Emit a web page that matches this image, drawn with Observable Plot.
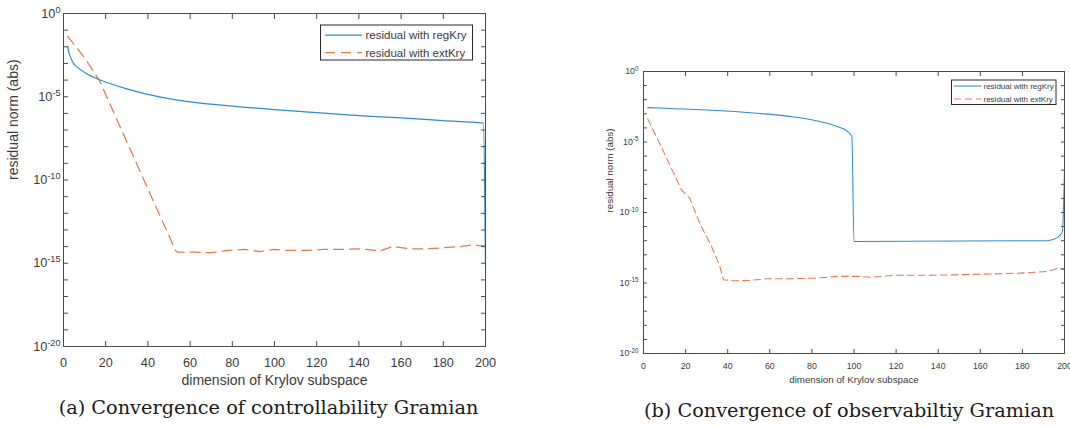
<!DOCTYPE html>
<html><head><meta charset="utf-8">
<script src="https://cdn.jsdelivr.net/npm/d3@7"></script>
<script src="https://cdn.jsdelivr.net/npm/@observablehq/plot@0.6"></script>
<style>
html,body{margin:0;padding:0;background:#fff;}
#root{position:relative;width:1070px;height:427px;overflow:hidden;background:#fff;}
.chart{position:absolute;top:0;}
.chart svg{max-width:none;overflow:visible;}
.caption{position:absolute;font-family:"DejaVu Serif",serif;font-size:19.3px;color:#1a1a1a;white-space:nowrap;transform:translate(-50%,-50%);}
.legend{position:absolute;left:0;top:0;overflow:visible;}
</style></head><body><div id="root"></div>
<script>
// ---------- data ----------
const xTicks = [0, 20, 40, 60, 80, 100, 120, 140, 160, 180, 200];
const yDecades = [1, 1e-1, 1e-2, 1e-3, 1e-4, 1e-5, 1e-6, 1e-7, 1e-8, 1e-9, 1e-10,
  1e-11, 1e-12, 1e-13, 1e-14, 1e-15, 1e-16, 1e-17, 1e-18, 1e-19, 1e-20];
const yLabelTicks = [1, 1e-5, 1e-10, 1e-15, 1e-20];
const seriesNames = ["residual with regKry", "residual with extKry"];
const xLabel = "dimension of Krylov subspace";
const yLabel = "residual norm (abs)";
const captions = ["(a) Convergence of controllability Gramian", "(b) Convergence of observabiltiy Gramian"];

// (a) controllability
const regA_x = [2, 2.5, 3.3, 4.9, 6.5, 11, 18, 30, 46, 60, 80, 100, 120, 140, 160, 180, 199, 200];
const regA_y = [1.05e-2, 4.8e-3, 2.4e-3, 9.5e-4, 6.0e-4, 2.4e-4, 9.5e-5, 3.0e-5, 9.5e-6, 5.0e-6,
  2.75e-6, 1.7e-6, 1.12e-6, 7.4e-7, 5.4e-7, 3.7e-7, 2.6e-7, 8e-16];
const extA_x = [2, 10, 17, 51, 53, 54, 62, 70, 78, 86, 93, 100, 106, 116, 123, 131, 141, 150,
  156, 164, 172, 180, 188, 194, 198, 200];
const extA_y = [4.2e-2, 2.2e-3, 9.5e-5, 2.3e-14, 5.9e-15, 4.6e-15, 4.6e-15, 4.3e-15, 5.9e-15,
  6.8e-15, 5.0e-15, 6.8e-15, 5.9e-15, 5.9e-15, 6.8e-15, 6.8e-15, 7.4e-15, 5.6e-15, 1.0e-14,
  7.4e-15, 7.4e-15, 8.5e-15, 1.0e-14, 1.26e-14, 1.12e-14, 1.1e-14];

// (b) observability
const regB_x = [2, 15, 30, 54, 70, 82, 92, 97, 99, 100, 192, 197, 199, 200];
const regB_y = [2.75e-3, 2.3e-3, 1.86e-3, 1.1e-3, 6.3e-4, 3.2e-4, 1.26e-4, 5.5e-5, 2.4e-5,
  8.9e-13, 1.0e-12, 1.8e-12, 4.6e-12, 1.05e-7];
const extB_x = [2, 8, 14, 18, 22, 27, 32, 36, 38, 43, 50, 59, 70, 81, 87, 92, 100, 103, 108,
  119, 135, 151, 166, 179, 192, 197, 200];
const extB_y = [4.4e-4, 6.3e-6, 7.9e-8, 4.1e-9, 1.0e-9, 1.35e-11, 5.1e-13, 2.0e-14, 1.7e-15,
  1.45e-15, 1.5e-15, 2.0e-15, 2.0e-15, 2.2e-15, 2.5e-15, 2.95e-15, 2.95e-15, 2.95e-15, 2.5e-15,
  3.5e-15, 3.5e-15, 3.9e-15, 4.4e-15, 5.0e-15, 6.6e-15, 1.15e-14, 8.7e-15];

// ---------- styling ----------
const BLUE = "#2f8ccc", RED = "#e07a4f", AX = "#4a4a4a", TXT = "#3a3a3a";
const NS = "http://www.w3.org/2000/svg";
const root = document.getElementById("root");

function rows(xs, ys, s) { return xs.map((x, i) => ({x, y: ys[i], s})); }

function chart(c) {
  const reg = rows(c.regX, c.regY, seriesNames[0]);
  const ext = rows(c.extX, c.extY, seriesNames[1]);
  const p = Plot.plot({
    width: c.width, height: c.height,
    marginTop: c.mt, marginRight: c.mr, marginBottom: c.mb, marginLeft: c.ml,
    style: {fontFamily: '"Liberation Sans", Arial, sans-serif', fontSize: c.tickFont + "px", color: TXT, background: "transparent"},
    x: {domain: [0, 200], label: null},
    y: {type: "log", domain: [1e-20, 1], label: null},
    marks: [
      Plot.line(ext, {x: "x", y: "y", stroke: RED, strokeWidth: c.lw, strokeDasharray: c.dash}),
      Plot.line(reg, {x: "x", y: "y", stroke: BLUE, strokeWidth: c.lw, curve: "monotone-x"}),
      Plot.frame({stroke: AX, strokeWidth: 1}),
      Plot.axisX(xTicks, {anchor: "bottom", tickSize: -c.tick, tickPadding: c.xPad, label: null, stroke: AX}),
      Plot.axisX(xTicks, {anchor: "top", tickSize: -c.tick, tickFormat: () => "", label: null, stroke: AX}),
      Plot.axisY(yDecades, {anchor: "left", tickSize: -c.tick, tickFormat: () => "", label: null, stroke: AX}),
      Plot.axisY(yDecades, {anchor: "right", tickSize: -c.tick, tickFormat: () => "", label: null, stroke: AX}),
      Plot.axisY(yLabelTicks, {anchor: "left", tickSize: 0, tickPadding: c.yPad, label: null,
        tickFormat: d => "10^" + Math.round(Math.log10(d))}),
      Plot.text([xLabel], {text: d => d, frameAnchor: "bottom", dy: c.xLabelDy, lineAnchor: "middle", fontSize: c.labelFont, fill: TXT}),
      Plot.text([yLabel], {text: d => d, frameAnchor: "left", dx: c.yLabelDx, rotate: -90, lineAnchor: "middle", fontSize: c.labelFont, fill: TXT})
    ]
  });
  // superscript exponents on the y tick labels
  p.querySelectorAll('g[aria-label="y-axis tick label"] text').forEach(t => {
    const m = t.textContent.match(/^10\^(-?\d+)$/);
    if (!m) return;
    t.textContent = "";
    const a = document.createElementNS(NS, "tspan"); a.textContent = "10";
    const b = document.createElementNS(NS, "tspan");
    b.setAttribute("dy", "-0.55em"); b.setAttribute("font-size", "0.72em"); b.textContent = m[1];
    t.appendChild(a); t.appendChild(b);
  });
  const wrap = document.createElement("div");
  wrap.className = "chart";
  wrap.style.left = c.left + "px";
  wrap.appendChild(p);
  root.appendChild(wrap);
}

function legend(l) {
  const svg = d3.select(root).append("svg").attr("class", "legend")
    .attr("width", 1070).attr("height", 427);
  svg.append("rect").attr("x", l.x0).attr("y", l.y0).attr("width", l.x1 - l.x0).attr("height", l.y1 - l.y0)
    .attr("fill", "#fff").attr("stroke", "#2a2a2a").attr("stroke-width", 1);
  const items = [{name: seriesNames[0], color: BLUE, dash: null}, {name: seriesNames[1], color: RED, dash: l.dash}];
  items.forEach((it, i) => {
    const y = l.rows[i];
    svg.append("line").attr("x1", l.lx0).attr("x2", l.lx1).attr("y1", y).attr("y2", y)
      .attr("stroke", it.color).attr("stroke-width", l.lw).attr("stroke-dasharray", it.dash);
    svg.append("text").attr("x", l.tx).attr("y", y).attr("dy", "0.35em")
      .attr("font-family", '"Liberation Sans", Arial, sans-serif').attr("font-size", l.font)
      .attr("fill", TXT).text(it.name);
  });
}

chart({left: 0, width: 520, height: 395, mt: 13, mr: 35, mb: 49, ml: 63,
  regX: regA_x, regY: regA_y, extX: extA_x, extY: extA_y,
  tickFont: 12.7, labelFont: 14, tick: 5, xPad: 16.5, yPad: 3, xLabelDy: 34, yLabelDx: -50,
  lw: 1.25, dash: "10,6"});
chart({left: 530, width: 540, height: 395, mt: 71, mr: 6, mb: 42, ml: 113,
  regX: regB_x, regY: regB_y, extX: extB_x, extY: extB_y,
  tickFont: 8.8, labelFont: 9.75, tick: 4, xPad: 13.4, yPad: 5, xLabelDy: 26, yLabelDx: -34,
  lw: 1.05, dash: "7,4"});

legend({x0: 320.5, y0: 25, x1: 472.5, y1: 60, rows: [35, 52.5], lx0: 325, lx1: 362, tx: 365.5, font: 11.5, lw: 1.25, dash: "10,6"});
legend({x0: 951.5, y0: 80, x1: 1056, y1: 104.5, rows: [86, 99], lx0: 954, lx1: 981.5, tx: 983.5, font: 8, lw: 1.05, dash: "7,4"});

[[captions[0], 268.5, 407], [captions[1], 849, 410]].forEach(([t, x, y]) => {
  const d = document.createElement("div");
  d.className = "caption";
  d.style.left = x + "px"; d.style.top = y + "px";
  d.textContent = t;
  root.appendChild(d);
});
</script></body></html>
